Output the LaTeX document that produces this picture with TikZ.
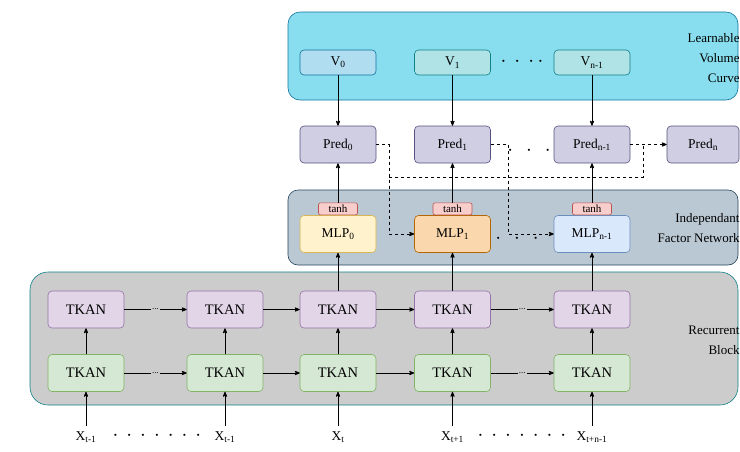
\documentclass[tikz,border=0pt]{standalone}
\usepackage{fontspec}
\setmainfont{Liberation Serif}
\usetikzlibrary{arrows,positioning}
\definecolor{volfill}{RGB}{136,222,238}
\definecolor{voldraw}{RGB}{16,115,158}
\definecolor{vzerofill}{RGB}{177,221,240}
\definecolor{vfill}{RGB}{176,227,230}
\definecolor{vdraw}{RGB}{14,128,136}
\definecolor{predfill}{RGB}{208,206,226}
\definecolor{preddraw}{RGB}{86,81,126}
\definecolor{factfill}{RGB}{186,200,211}
\definecolor{factdraw}{RGB}{35,68,93}
\definecolor{recfill}{RGB}{204,204,204}
\definecolor{tanhfill}{RGB}{248,206,204}
\definecolor{tanhdraw}{RGB}{184,84,80}
\definecolor{mlpyfill}{RGB}{255,242,204}
\definecolor{mlpydraw}{RGB}{214,182,86}
\definecolor{mlpofill}{RGB}{250,215,172}
\definecolor{mlpodraw}{RGB}{180,101,4}
\definecolor{mlpbfill}{RGB}{218,232,252}
\definecolor{mlpbdraw}{RGB}{108,142,191}
\definecolor{upfill}{RGB}{225,213,231}
\definecolor{updraw}{RGB}{150,115,166}
\definecolor{lowfill}{RGB}{213,232,212}
\definecolor{lowdraw}{RGB}{130,179,102}

\begin{document}
\begin{tikzpicture}[x=1pt,y=-1pt,->,>=stealth',thick,
                    font=\fontsize{13.5}{15}\selectfont]
    \tikzstyle{block}=[draw,semithick,rounded corners=4pt,minimum width=76pt,minimum height=37pt,inner sep=1pt]
    \tikzstyle{tkan}=[block,font=\fontsize{14.5}{16}\selectfont]
    \tikzstyle{vbox}=[block,minimum height=25pt,fill=vfill,draw=vdraw]
    \tikzstyle{pred}=[block,fill=predfill,draw=preddraw]
    \tikzstyle{act}=[draw=tanhdraw,fill=tanhfill,semithick,rounded corners=2pt,minimum width=39pt,
                     minimum height=12pt,inner sep=0pt,font=\fontsize{11}{11}\selectfont]
    \tikzstyle{side}=[align=right,anchor=east,inner sep=0pt,font=\fontsize{13}{20}\selectfont]
    \tikzstyle{gap}=[fill=recfill,inner sep=1pt,font=\fontsize{9}{9}\selectfont]
    \tikzstyle{dots}=[inner sep=0pt,font=\fontsize{20}{20}\selectfont]

    \useasboundingbox (0,0) rectangle (740,451);

    % containers
    \draw[-,semithick,draw=voldraw,fill=volfill,rounded corners=12pt] (288,12) rectangle (738,100);
    \draw[-,semithick,draw=factdraw,fill=factfill,rounded corners=10pt] (288,190) rectangle (738,265);
    \draw[-,semithick,draw=vdraw,fill=recfill,rounded corners=18pt] (30,272) rectangle (738,405);

    \node[side] (lvc) at (740,58) {Learnable\\Volume\\Curve};
    \node[side] (ifn) at (740,228) {Independant\\Factor Network};
    \node[side] (rb) at (740,340) {Recurrent\\Block};

    % volume curve
    \node[vbox,fill=vzerofill,draw=voldraw] (v0) at (338,62.5) {V\textsubscript{0}};
    \node[vbox] (v1) at (452.5,62.5) {V\textsubscript{1}};
    \node[vbox] (v2) at (592,62.5) {V\textsubscript{n-1}};
    \node[dots] (vdots) at (522,62) {$\cdot\,\cdot\,\cdot\,\cdot$};

    % predictions
    \node[pred] (p0) at (338,144.5) {Pred\textsubscript{0}};
    \node[pred] (p1) at (452.5,144.5) {Pred\textsubscript{1}};
    \node[pred] (p2) at (592,144.5) {Pred\textsubscript{n-1}};
    \node[pred,minimum width=72pt] (pn) at (703,144.5) {Pred\textsubscript{n}};
    \node[dots] (pdots) at (529,151) {$\cdot\ \,\cdot\ \,\cdot$};

    % factor network
    \node[block,fill=mlpyfill,draw=mlpydraw] (m0) at (338,234) {MLP\textsubscript{0}};
    \node[block,fill=mlpofill,draw=mlpodraw] (m1) at (452.5,234) {MLP\textsubscript{1}};
    \node[block,fill=mlpbfill,draw=mlpbdraw] (m2) at (592,234) {MLP\textsubscript{n-1}};
    \node[act,above=0pt of m0] (t0) {tanh};
    \node[act,above=0pt of m1] (t1) {tanh};
    \node[act,above=0pt of m2] (t2) {tanh};
    \node[dots] (mdots) at (517,239) {$\cdot\ \,\cdot\ \,\cdot$};

    % recurrent block
    \foreach \i/\x in {1/86,2/225,3/338,4/452.5,5/592} {
        \node[tkan,fill=upfill,draw=updraw] (u\i) at (\x,309.5) {TKAN};
        \node[tkan,fill=lowfill,draw=lowdraw] (g\i) at (\x,373) {TKAN};
        \draw (g\i) -- (u\i);
    }

    % inputs
    \node (x1) at (86,437) {X\textsubscript{t-1}};
    \node (x2) at (225,437) {X\textsubscript{t-1}};
    \node (x3) at (338,437) {X\textsubscript{t}};
    \node (x4) at (452.5,437) {X\textsubscript{t+1}};
    \node (x5) at (592,437) {X\textsubscript{t+n-1}};
    \node[dots] (xdots1) at (157,436) {$\cdot\,\cdot\,\cdot\,\cdot\,\cdot\,\cdot\,\cdot$};
    \node[dots] (xdots2) at (522,436) {$\cdot\,\cdot\,\cdot\,\cdot\,\cdot\,\cdot\,\cdot$};
    \foreach \i in {1,...,5}
        \draw (x\i.north) ++(0,-2) coordinate (xs\i) (xs\i) -- (g\i.south);

    % recurrence
    \path (g1) edge node[gap] {...} (g2)
          (g2) edge (g3)
          (g3) edge (g4)
          (g4) edge node[gap] {...} (g5)
          (u1) edge node[gap] {...} (u2)
          (u2) edge (u3)
          (u3) edge (u4)
          (u4) edge node[gap] {...} (u5);

    % upward flow
    \path (u3) edge (m0)
          (u4) edge (m1)
          (u5) edge (m2)
          (t0) edge (p0)
          (t1) edge (p1)
          (t2) edge (p2)
          (v0) edge (p0)
          (v1) edge (p1)
          (v2) edge (p2);

    % feedback of predictions
    \coordinate (j0) at (389,177);
    \coordinate (j1) at (643,144.5);
    \draw[dashed] (p0.east) -- ++(13,0) |- (m1.west);
    \draw[dashed] (p1.east) -- ++(18,0) |- (m2.west);
    \draw[dashed] (p2.east) -- (pn.west);
    \draw[dashed,-] (j0) -| (j1);
\end{tikzpicture}
\end{document}
